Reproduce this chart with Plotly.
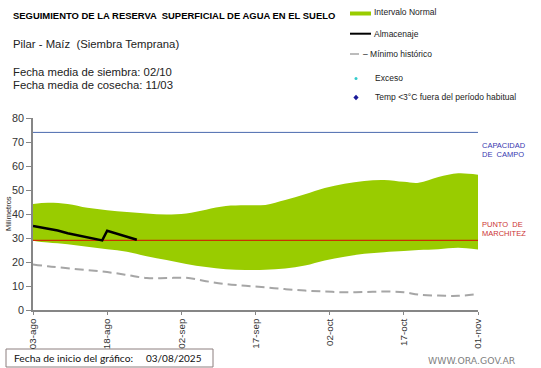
import pandas as pd
import plotly.graph_objects as go

# ---------------- data ----------------
START = "2025-08-03"
BAND_DAYS = [0, 3, 7, 11, 15, 19, 23, 27, 31, 35, 39, 43, 47, 51, 55, 59, 63, 67, 71, 75, 78, 82, 86, 90]
NORMAL_UPPER = [44.2, 44.7, 44.2, 42.6, 41.6, 40.8, 40.2, 39.8, 40.2, 41.8, 43.3, 43.6, 43.8, 45.8,
                48.2, 50.8, 52.6, 53.8, 54.2, 53.4, 53.0, 55.4, 57.0, 56.4]
NORMAL_LOWER = [28.9, 28.1, 27.4, 26.4, 25.3, 24.3, 22.4, 20.8, 19.2, 17.9, 17.0, 16.7, 16.8, 17.3,
                18.5, 20.6, 22.2, 23.4, 24.1, 24.6, 25.0, 25.3, 25.9, 25.2]
MINIMO = [19.0, 18.2, 17.4, 16.6, 15.8, 14.6, 13.3, 13.3, 13.4, 12.0, 10.8, 10.1, 9.4, 8.7,
          8.1, 7.7, 7.4, 7.5, 7.7, 7.4, 6.4, 6.0, 5.9, 6.6]
ALM_DAYS = [0, 5, 7, 10, 13, 14, 15, 21]
ALMACENAJE = [35.0, 33.1, 32.0, 30.6, 29.4, 29.0, 33.0, 29.3]
CAPACIDAD_CAMPO = 74.0
PUNTO_MARCHITEZ = 29.0
END = "2025-11-01"
TICK_VALS = ["2025-08-03", "2025-08-18", "2025-09-02", "2025-09-17", "2025-10-02", "2025-10-17", "2025-11-01"]
TICK_TEXT = ["03-ago", "18-ago", "02-sep", "17-sep", "02-oct", "17-oct", "01-nov"]
Y_TICKS = [0, 10, 20, 30, 40, 50, 60, 70, 80]

start = pd.Timestamp(START)
band_x = [start + pd.Timedelta(days=d) for d in BAND_DAYS]
alm_x = [start + pd.Timedelta(days=d) for d in ALM_DAYS]

FONT = "Liberation Sans, Arial, sans-serif"
GREEN = "#99cc00"

fig = go.Figure()
fig.add_trace(go.Scatter(x=band_x, y=NORMAL_UPPER, mode="lines", line=dict(width=0, shape="spline", color=GREEN),
                         hoverinfo="skip", showlegend=False))
fig.add_trace(go.Scatter(x=band_x, y=NORMAL_LOWER, mode="lines", line=dict(width=0, shape="spline", color=GREEN),
                         fill="tonexty", fillcolor=GREEN, showlegend=False))
fig.add_trace(go.Scatter(x=[START, END], y=[PUNTO_MARCHITEZ] * 2, mode="lines",
                         line=dict(color="#cc3300", width=1.2), showlegend=False))
fig.add_trace(go.Scatter(x=[START, END], y=[CAPACIDAD_CAMPO] * 2, mode="lines",
                         line=dict(color="#4a6aae", width=1), showlegend=False))
fig.add_trace(go.Scatter(x=band_x, y=MINIMO, mode="lines",
                         line=dict(color="#a6a6a6", width=2, dash="9px,5px", shape="spline"), showlegend=False))
fig.add_trace(go.Scatter(x=alm_x, y=ALMACENAJE, mode="lines",
                         line=dict(color="black", width=2.5), showlegend=False))

L, R, T, B = 33, 63, 118, 58
W, H = 541, 368
PW, PH = W - L - R, H - T - B


def px(x):
    return (x - L) / PW


def py(y):
    return (H - B - y) / PH


ann = []
shapes = []


def text(x, y, s, size, color="black", anchor="left", bold=False, family=FONT, angle=0):
    ann.append(dict(x=px(x), y=py(y), xref="paper", yref="paper", text=("<b>%s</b>" % s) if bold else s,
                    showarrow=False, xanchor=anchor, yanchor="middle", textangle=angle,
                    font=dict(size=size, color=color, family=family)))


text(11, 15, "SEGUIMIENTO DE LA RESERVA  SUPERFICIAL DE AGUA EN EL SUELO", 9.45, bold=True)
text(11, 44, "Pilar - Maíz  (Siembra Temprana)", 11.3, color="#222")
text(11, 72, "Fecha media de siembra: 02/10", 11.3, color="#222")
text(11, 85, "Fecha media de cosecha: 11/03", 11.3, color="#222")

# legend
shapes.append(dict(type="rect", xref="paper", yref="paper", x0=px(350), x1=px(371), y0=py(15.5), y1=py(11.5),
                   fillcolor=GREEN, line=dict(width=0)))
text(372, 12.5, "Intervalo Normal", 8.5, color="#222")
shapes.append(dict(type="line", xref="paper", yref="paper", x0=px(350), x1=px(371), y0=py(33.7), y1=py(33.7),
                   line=dict(color="black", width=2)))
text(372, 34, "Almacenaje", 8.5, color="#222")
shapes.append(dict(type="line", xref="paper", yref="paper", x0=px(350), x1=px(359), y0=py(54), y1=py(54),
                   line=dict(color="#a6a6a6", width=1.5)))
text(361, 54, "– Mínimo histórico", 8.5, color="#222")
shapes.append(dict(type="circle", xref="paper", yref="paper", x0=px(354.5), x1=px(357.5), y0=py(80), y1=py(77),
                   fillcolor="#33cccc", line=dict(width=0)))
text(373, 77.5, "Exceso", 8.5, color="#222")
dx, dy = 2.6 / PW, 2.8 / PH
cx, cy = px(356), py(97.5)
shapes.append(dict(type="path", xref="paper", yref="paper",
                   path=f"M {cx},{cy+dy} L {cx+dx},{cy} L {cx},{cy-dy} L {cx-dx},{cy} Z",
                   fillcolor="#1a1a99", line=dict(width=0)))
text(373, 97, "Temp <3°C fuera del período habitual", 8.5, color="#222")

# right annotations
text(480, 145, "CAPACIDAD", 7.5, color="#3838b0")
text(480, 154, "DE  CAMPO", 7.5, color="#3838b0")
text(480, 224, "PUNTO  DE", 7.5, color="#cc3333")
text(480, 233, "MARCHITEZ", 7.5, color="#cc3333")

# y title
text(8, 214, "Milímetros", 7.5, color="#222", anchor="center", angle=-90)

# bottom box
shapes.append(dict(type="rect", xref="paper", yref="paper", x0=px(6), x1=px(213), y0=py(367), y1=py(349),
                   line=dict(color="#8c7e7e", width=1), fillcolor="white", layer="below"))
text(12, 358, "Fecha de inicio del gráfico:", 10.3, color="#111", family="Lato, Noto Sans, sans-serif")
text(144, 358, "03/08/2025", 10.0, color="#111", family="Lato, Noto Sans, sans-serif")
text(518, 360, "WWW.ORA.GOV.AR", 9.3, color="#7f7f7f", anchor="right", family="DejaVu Sans, sans-serif")

fig.update_layout(
    width=W, height=H, margin=dict(l=L, r=R, t=T, b=B),
    paper_bgcolor="white", plot_bgcolor="white",
    annotations=ann, shapes=shapes, showlegend=False,
    xaxis=dict(type="date", range=[START, END], tickvals=TICK_VALS, ticktext=TICK_TEXT, tickangle=-90,
               showgrid=False, zeroline=False, showline=True, linecolor="#868686", linewidth=1.5,
               ticks="outside", ticklen=3, tickcolor="#868686",
               tickfont=dict(size=9.8, family=FONT, color="#333")),
    yaxis=dict(range=[0, 80], tickvals=Y_TICKS, showgrid=False, zeroline=False, showline=True,
               linecolor="#868686", linewidth=1.5, ticks="outside", ticklen=5, tickcolor="#868686",
               tickfont=dict(size=10.8, family=FONT, color="#333")),
)

fig.write_html("out.html", config={"displayModeBar": False},
               post_script="document.body.style.margin='0';document.body.style.padding='0';"
                           "document.body.style.overflow='hidden';")
